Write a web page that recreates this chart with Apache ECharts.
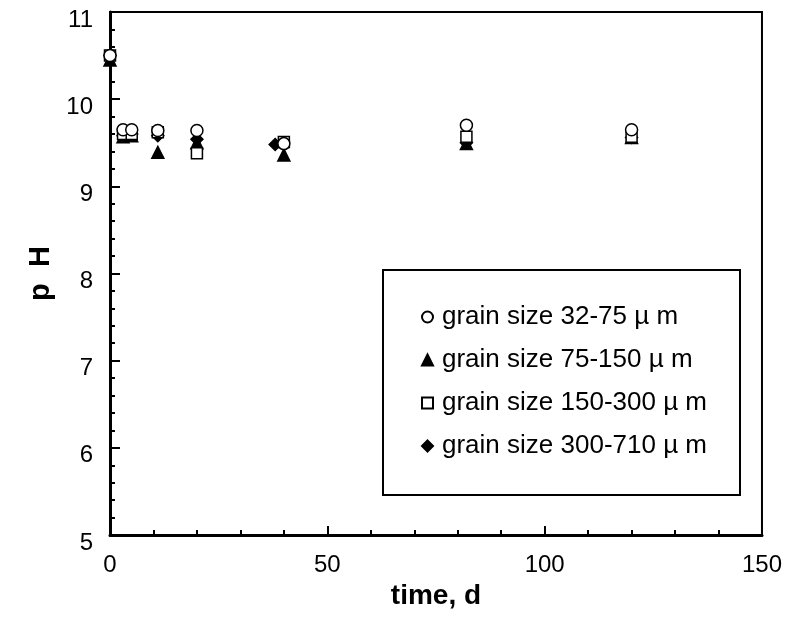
<!DOCTYPE html>
<html>
<head>
<meta charset="utf-8">
<script src="https://cdn.jsdelivr.net/npm/echarts@6/dist/echarts.min.js"></script>
<style>
	html, body { margin: 0; padding: 0; background: #fff; }
	#chart { width: 785px; height: 618px; }
</style>
</head>
<body>
<div id="chart"></div>
<script>
// series names
var seriesNames = [
	'grain size 32-75 \u00b5 m',
	'grain size 75-150 \u00b5 m',
	'grain size 150-300 \u00b5 m',
	'grain size 300-710 \u00b5 m'
];

// [time d, pH]
var size32to75 = [[0, 10.5], [3, 9.65], [5, 9.65], [11, 9.64], [20, 9.64], [40, 9.49], [82, 9.7], [120, 9.65]];
var size75to150 = [[0, 10.45], [3, 9.57], [5, 9.58], [11, 9.39], [20, 9.5], [40, 9.36], [82, 9.49], [120, 9.56]];
var size150to300 = [[0, 10.5], [3, 9.6], [5, 9.6], [11, 9.62], [20, 9.38], [40, 9.51], [82, 9.57], [120, 9.57]];
var size300to710 = [[0, 10.5], [3, 9.58], [5, 9.6], [11, 9.58], [20, 9.54], [38, 9.48], [82, 9.5], [120, 9.56]];

var chart = echarts.init(document.getElementById('chart'));

var fontName = 'Liberation Sans, Arial, sans-serif';

function makeSeries(name, data, symbol, size, fill)
{
	return {
		name: name,
		type: 'scatter',
		data: data,
		symbol: symbol,
		symbolSize: size,
		itemStyle: { color: fill, borderColor: '#000', borderWidth: 1.5, opacity: 1 },
		emphasis: { disabled: true }
	};
}

var options =
{
	animation: false,
	backgroundColor: '#fff',
	grid:
	{
		left: 110,
		right: 23,
		top: 12,
		bottom: 83,
		show: true,
		borderColor: '#000',
		borderWidth: 2
	},
	xAxis:
	{
		type: 'value',
		min: 0,
		max: 150,
		interval: 50,
		name: 'time, d',
		nameLocation: 'middle',
		nameGap: 46,
		nameTextStyle: { color: '#000', fontFamily: fontName, fontSize: 28, fontWeight: 'bold' },
		axisLine: { lineStyle: { color: '#000', width: 3 } },
		axisTick: { inside: true, length: 9, lineStyle: { color: '#000', width: 2 } },
		minorTick: { show: true, splitNumber: 5, length: 5, lineStyle: { color: '#000', width: 2 } },
		axisLabel: { color: '#000', fontFamily: fontName, fontSize: 24, margin: 18 },
		splitLine: { show: false }
	},
	yAxis:
	{
		type: 'value',
		min: 5,
		max: 11,
		interval: 1,
		name: 'p  H',
		nameLocation: 'middle',
		nameGap: 54,
		nameTextStyle: { color: '#000', fontFamily: fontName, fontSize: 29, fontWeight: 'bold' },
		axisLine: { lineStyle: { color: '#000', width: 3 } },
		axisTick: { inside: true, length: 10, lineStyle: { color: '#000', width: 2 } },
		minorTick: { show: true, splitNumber: 5, length: 5, lineStyle: { color: '#000', width: 2 } },
		axisLabel: { color: '#000', fontFamily: fontName, fontSize: 24, margin: 17, verticalAlign: 'top', lineHeight: 16 },
		splitLine: { show: false }
	},
	legend:
	{
		orient: 'vertical',
		left: 416,
		top: 299,
		itemGap: 17,
		itemWidth: 11,
		itemHeight: 11,
		textStyle: { color: '#000', fontFamily: fontName, fontSize: 26, padding: [0, 0, 0, 4] },
		data: seriesNames
	},
	graphic:
	[
		{
			type: 'rect',
			shape: { x: 383, y: 270, width: 357, height: 225 },
			style: { fill: 'none', stroke: '#000', lineWidth: 2 },
			z: 1
		}
	],
	series:
	[
		makeSeries(seriesNames[3], size300to710, 'diamond', 12, '#000'),
		makeSeries(seriesNames[1], size75to150, 'triangle', 12, '#000'),
		makeSeries(seriesNames[2], size150to300, 'rect', 11, '#fff'),
		makeSeries(seriesNames[0], size32to75, 'circle', 12, '#fff')
	]
};

chart.setOption(options);
</script>
</body>
</html>
